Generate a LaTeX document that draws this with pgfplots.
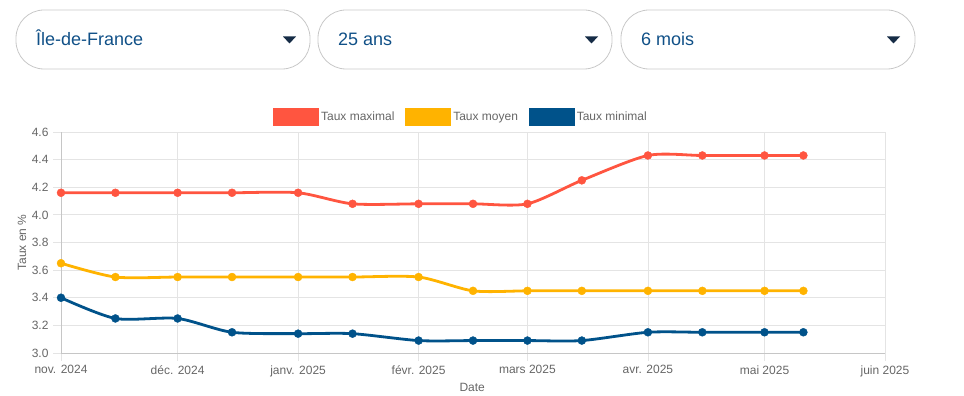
\documentclass[border=0pt]{standalone}
\usepackage{pgfplots}
\pgfplotsset{compat=1.18}
\usepackage{fontspec}
\setmainfont{Liberation Sans}
\definecolor{cmax}{RGB}{255,85,64}
\definecolor{cmoy}{RGB}{255,179,0}
\definecolor{cmin}{RGB}{0,82,138}
\definecolor{txtgray}{RGB}{102,102,102}
\definecolor{gridc}{RGB}{228,228,228}
\definecolor{ddtext}{RGB}{16,80,135}
\definecolor{ddtri}{RGB}{22,44,70}
\definecolor{ddborder}{RGB}{200,200,200}
\begin{document}
\begin{tikzpicture}[x=1pt,y=1pt]
\useasboundingbox (0,0) rectangle (964,396);
% dropdowns
\foreach \xa/\xb/\lab/\tri in {16/310/{Île-de-France}/289.5, 318/612/{25 ans}/591.5, 621/915/{6 mois}/893.5}{
  \draw[ddborder, line width=0.8pt, rounded corners=28pt] (\xa,327) rectangle (\xb,386);
  \node[anchor=base west, inner sep=0pt, text=ddtext, font=\fontsize{18}{20}\selectfont] at (\xa+20,350) {\lab};
  \fill[ddtri] (\tri-6.5,359.5) -- (\tri+6.5,359.5) -- (\tri,352.5) -- cycle;
}
\begin{axis}[
  at={(61pt,43pt)}, anchor=south west,
  scale only axis, width=824pt, height=221pt,
  xmin=0, xmax=212, ymin=3, ymax=4.6,
  xtick={0,30,61,92,120,151,181,212},
  xticklabels={nov. 2024, déc. 2024, janv. 2025, févr. 2025, mars 2025, avr. 2025, mai 2025, juin 2025},
  ytick={3,3.2,3.4,3.6,3.8,4.0,4.2,4.4,4.6},
  yticklabels={3.0,3.2,3.4,3.6,3.8,4.0,4.2,4.4,4.6},
  axis lines*=left,
  axis line style={draw=gridc!70!black!60, line width=0.8pt, -},
  grid=major,
  major grid style={draw=gridc, line width=0.8pt},
  tick align=outside, major tick length=8pt,
  tick style={draw=gridc, line width=0.8pt},
  ticklabel style={text=txtgray, font=\fontsize{12}{14}\selectfont},
  xticklabel style={yshift=-1pt},
  yticklabel style={xshift=-1pt},
  xlabel={Date}, ylabel={Taux en \%},
  label style={text=txtgray, font=\fontsize{12}{14}\selectfont},
  xlabel style={at={(axis description cs:0.499,0)}, anchor=north, yshift=-27pt},
  ylabel style={at={(axis description cs:-0.0473,0.5)}, anchor=center},
  clip=false,
  legend columns=3,
  legend style={at={(axis description cs:0.4855,1.0679)}, anchor=center, draw=none, fill=none,
    font=\fontsize{12}{14}\selectfont, text=txtgray, inner sep=0pt,
    /tikz/every even column/.append style={column sep=9pt}},
  legend image code/.code={\fill[#1] (0pt,-7.5pt) rectangle (43pt,7.5pt);},
  every axis plot/.append style={line width=2.8pt, smooth, tension=0.45},
]
\addplot[color=cmax, mark=*, mark size=4pt, mark options={solid, fill=cmax, draw=cmax, line width=0.4pt}] coordinates {
 (0,4.16) (14,4.16) (30,4.16) (44,4.16) (61,4.16) (75,4.08) (92,4.08) (106,4.08) (120,4.08) (134,4.25) (151,4.43) (165,4.43) (181,4.43) (191,4.43)};
\addlegendentry{Taux maximal}
\addplot[color=cmoy, mark=*, mark size=4pt, mark options={solid, fill=cmoy, draw=cmoy, line width=0.4pt}] coordinates {
 (0,3.65) (14,3.55) (30,3.55) (44,3.55) (61,3.55) (75,3.55) (92,3.55) (106,3.45) (120,3.45) (134,3.45) (151,3.45) (165,3.45) (181,3.45) (191,3.45)};
\addlegendentry{Taux moyen}
\addplot[color=cmin, mark=*, mark size=4pt, mark options={solid, fill=cmin, draw=cmin, line width=0.4pt}] coordinates {
 (0,3.40) (14,3.25) (30,3.25) (44,3.15) (61,3.14) (75,3.14) (92,3.09) (106,3.09) (120,3.09) (134,3.09) (151,3.15) (165,3.15) (181,3.15) (191,3.15)};
\addlegendentry{Taux minimal}
\end{axis}
\end{tikzpicture}
\end{document}
